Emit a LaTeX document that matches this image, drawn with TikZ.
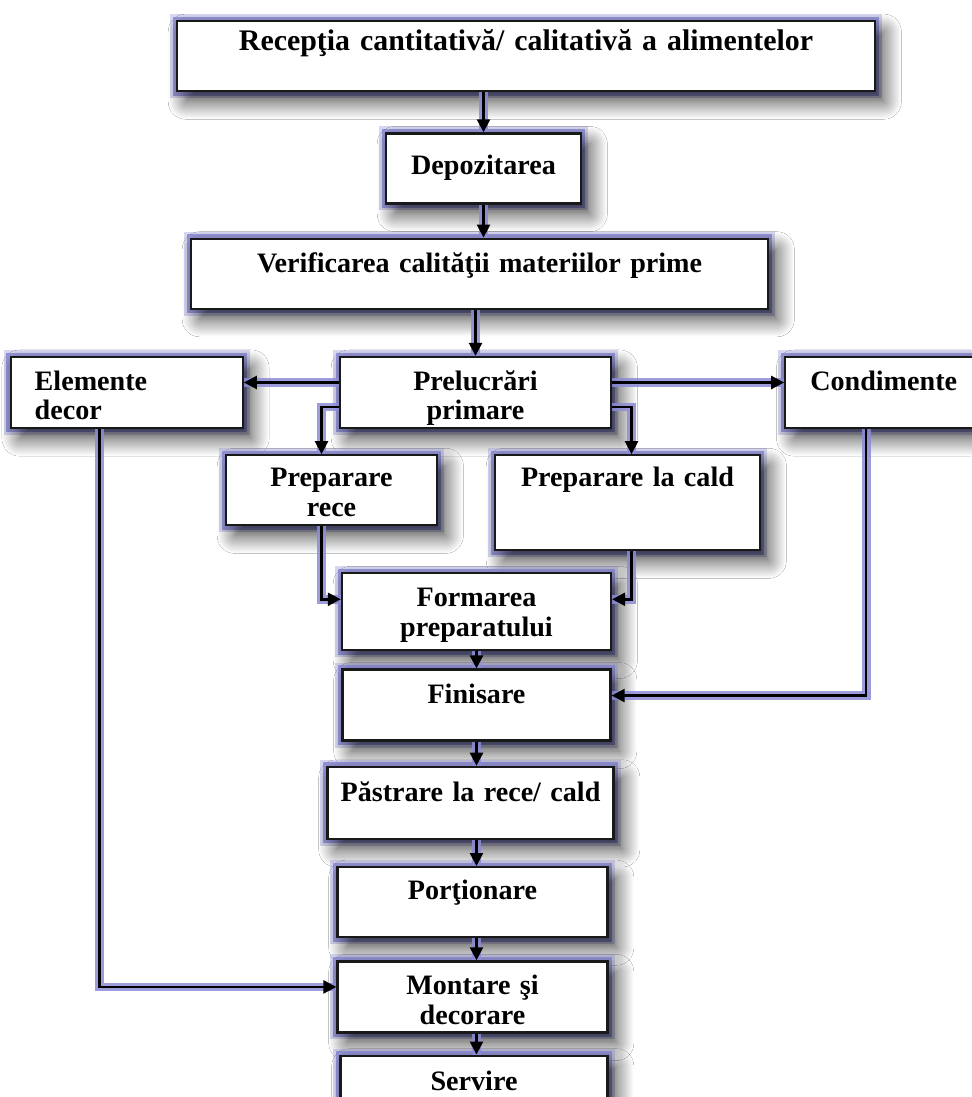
\documentclass[tikz,border=0pt]{standalone}
\usepackage{fontspec}
\setmainfont{Liberation Serif}
\usepackage{xcolor}
\usepackage{tikz}
\usetikzlibrary{arrows.meta, positioning, shadows.blur}
\definecolor{halo}{RGB}{140,140,215}

\begin{document}
\begin{tikzpicture}[
  box/.style={draw=black!90, line width=1.3pt, fill=white, inner xsep=0pt, inner ysep=0pt,
              align=center, font=\fontsize{16}{17}\selectfont\bfseries,
              preaction={draw=halo, line width=8pt, opacity=0.35},
              preaction={draw=halo, line width=5pt, opacity=0.85},
              blur shadow={shadow xshift=5pt, shadow yshift=-6pt, shadow blur radius=10pt,
                           shadow blur steps=16, shadow opacity=75}},
  arr/.style={-{Triangle[length=2.6mm, width=2.6mm]}, line width=1.4pt,
              preaction={draw=halo, line width=5pt, opacity=0.85, arrows=-}},
]
  \path[use as bounding box, fill=white] (0,0) rectangle (19.42,-21.94);

  % main column
  \node[box, anchor=north, text width=13.96cm, text height=0.58cm, text depth=0.82cm,
        font=\fontsize{17}{18}\selectfont\bfseries] (rec) at (10.52,-0.4) {Recepţia cantitativă/ calitativă a alimentelor};
  \node[box, text width=3.9cm, text height=0.82cm, text depth=0.58cm, below=0.8cm of rec, xshift=-0.85cm] (dep) {Depozitarea};
  \node[box, text width=11.54cm, text height=0.68cm, text depth=0.72cm, below=0.66cm of dep, xshift=-0.08cm] (ver) {Verificarea calităţii materiilor prime};
  \node[box, text width=5.42cm, text height=0.66cm, text depth=0.76cm, below=0.92cm of ver, xshift=-0.08cm] (pre) {Prelucrări\\ primare};

  % side boxes
  \node[box, align=left, text width=3.68cm, inner xsep=0.48cm, text height=0.66cm, text depth=0.76cm, left=1.9cm of pre] (ede) {Elemente\\ decor};
  \node[box, align=left, text width=3.4cm, inner xsep=0.5cm, text height=0.66cm, text depth=0.76cm, right=3.44cm of pre] (con) {Condimente};
  \node[box, text width=4.22cm, text height=0.62cm, text depth=0.78cm, below=0.5cm of pre, xshift=-2.88cm] (prr) {Preparare\\ rece};
  \node[box, text width=5.3cm, text height=0.62cm, text depth=1.28cm, below=0.5cm of pre, xshift=3.04cm] (prc) {Preparare la cald};

  \node[box, text width=5.38cm, text height=0.66cm, text depth=0.88cm, below=2.86cm of pre, xshift=0.02cm] (frm) {Formarea\\ preparatului};
  \node[box, text width=5.36cm, text height=0.68cm, text depth=0.74cm, below=0.34cm of frm] (fin) {Finisare};
  \node[box, text width=5.72cm, text height=0.70cm, text depth=0.74cm, below=0.48cm of fin, xshift=-0.12cm] (pas) {Păstrare la rece/ cald};
  \node[box, text width=5.4cm, text height=0.64cm, text depth=0.76cm, below=0.52cm of pas, xshift=0.04cm] (por) {Porţionare};
  \node[box, text width=5.4cm, text height=0.66cm, text depth=0.76cm, below=0.44cm of por] (mon) {Montare şi\\ decorare};
  \node[box, text width=5.34cm, text height=0.70cm, text depth=0.74cm, below=0.42cm of mon, xshift=0.03cm] (ser) {Servire};

  % connectors
  \draw[arr] (rec.south -| dep.north) -- (dep.north);
  \draw[arr] (dep.south) -- (dep.south |- ver.north);
  \draw[arr] (ver.south -| pre.north) -- (pre.north);
  \draw[arr] ([yshift=0.2cm]pre.west) -- ([yshift=0.2cm]ede.east);
  \draw[arr] ([yshift=0.2cm]pre.east) -- ([yshift=0.2cm]con.west);
  \draw[arr] ([yshift=-0.29cm]pre.west) -| ([xshift=-0.2cm]prr.north);
  \draw[arr] ([yshift=-0.29cm]pre.east) -| ([xshift=0.08cm]prc.north);
  \draw[arr] ([xshift=-0.2cm]prr.south) |- ([yshift=0.25cm]frm.west);
  \draw[arr] ([xshift=0.08cm]prc.south) |- ([yshift=0.25cm]frm.east);
  \draw[arr] (frm.south) -- (frm.south |- fin.north);
  \draw[arr] ([xshift=1.64cm]con.south west) |- ([yshift=0.19cm]fin.east);
  \draw[arr] (fin.south) -- (fin.south |- pas.north);
  \draw[arr] (pas.south -| fin.south) -- (por.north -| fin.south);
  \draw[arr] (por.south -| fin.south) -- (mon.north -| fin.south);
  \draw[arr] (mon.south -| fin.south) -- (ser.north -| fin.south);
  \draw[arr] ([xshift=1.8cm]ede.south west) |- ([yshift=0.2cm]mon.west);
\end{tikzpicture}
\end{document}
